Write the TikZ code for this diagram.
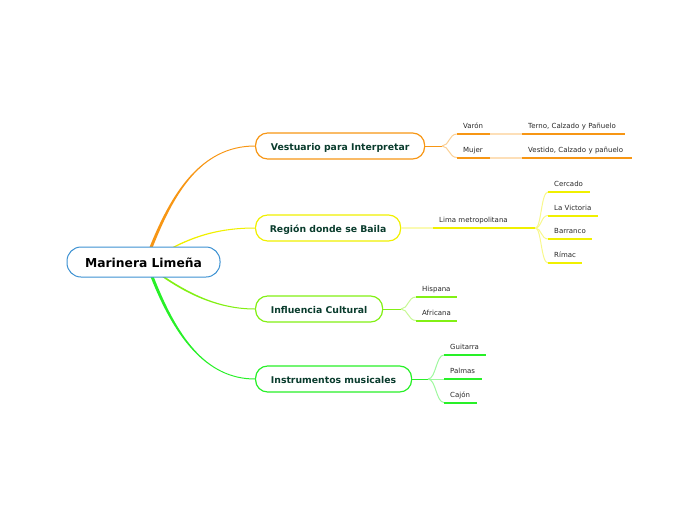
\documentclass[tikz,border=0pt]{standalone}
\usepackage{fontspec}
\setmainfont{DejaVu Sans}
\usetikzlibrary{calc}
\definecolor{cOr}{RGB}{247,150,20}
\definecolor{cYe}{RGB}{240,240,0}
\definecolor{cLi}{RGB}{130,240,20}
\definecolor{cGr}{RGB}{40,240,40}
\definecolor{cBl}{RGB}{60,145,210}
\definecolor{cTx}{RGB}{10,60,45}
\definecolor{cLf}{RGB}{40,40,40}
\tikzset{
  rootbox/.style={draw=cBl, line width=1pt, rounded corners=14pt, fill=white,
    minimum width=153pt, minimum height=30pt, inner sep=0pt,
    text height=10.5pt, text depth=0pt,
    font=\fontsize{12.3}{14}\selectfont\bfseries, text=black},
  mainbox/.style={draw=#1, line width=1.2pt, rounded corners=12pt, fill=white,
    minimum height=26pt, inner sep=0pt, anchor=west,
    text height=9pt, text depth=0pt,
    font=\fontsize{9.3}{11}\selectfont\bfseries, text=cTx},
  leaf/.style={anchor=south west, inner xsep=6pt, inner ysep=3.5pt, align=left,
    text height=5.2pt, text depth=1.5pt, text width=#1,
    font=\fontsize{7}{8.5}\selectfont, text=cLf},
  uline/.style={draw=#1, line width=2pt},
  thinl/.style={draw=#1, line width=1pt},
  softl/.style={draw=#1!45, line width=1pt},
}
\begin{document}
\begin{tikzpicture}[x=1pt,y=-1pt]
\useasboundingbox (0,0) rectangle (697,520);

% main nodes
\node[mainbox=cOr, minimum width=169pt] (vest) at (255,146) {Vestuario para Interpretar};
\node[mainbox=cYe, minimum width=145pt] (reg) at (255,228) {Región donde se Baila};
\node[mainbox=cLi, minimum width=127pt] (inf) at (255,309) {Influencia Cultural};
\node[mainbox=cGr, minimum width=156pt] (ins) at (255,379) {Instrumentos musicales};

% root branches (tapered)
\coordinate (s1) at (151,247.5);
\coordinate (s2) at (173,247.5);
\coordinate (s3) at (163,276.5);
\coordinate (s4) at (152,276.5);

\fill[cOr] ($(s1)+(-1.6,0)$) .. controls (170.5,195) and (200,145.5) .. ($(vest.west)+(0,-0.5)$)
  -- ($(vest.west)+(0,0.5)$) .. controls (200,146.5) and (173.5,195) .. ($(s1)+(1.6,0)$) -- cycle;
\fill[cYe] ($(s2)+(-1.4,0)$) .. controls (195,235.3) and (220,227.5) .. ($(reg.west)+(0,-0.5)$)
  -- ($(reg.west)+(0,0.5)$) .. controls (220,228.5) and (196,236.7) .. ($(s2)+(1.4,0)$) -- cycle;
\fill[cLi] ($(s3)+(-1.4,0)$) .. controls (189,295.7) and (220,309.5) .. ($(inf.west)+(0,0.5)$)
  -- ($(inf.west)+(0,-0.5)$) .. controls (220,308.5) and (191,294.3) .. ($(s3)+(1.4,0)$) -- cycle;
\fill[cGr] ($(s4)+(-1.6,0)$) .. controls (173.5,335) and (205,379.5) .. ($(ins.west)+(0,0.5)$)
  -- ($(ins.west)+(0,-0.5)$) .. controls (205,378.5) and (176.5,335) .. ($(s4)+(1.6,0)$) -- cycle;

\node[rootbox] (root) at (143.5,262) {Marinera Limeña};

% ---- Vestuario children
\node[leaf=21pt] (varon) at (457,134) {Varón};
\node[leaf=21pt] (mujer) at (457,157.5) {Mujer};
\node[leaf=91pt] (terno) at (522,134) {Terno, Calzado y Pañuelo};
\node[leaf=98pt] (vestido) at (522,157.5) {Vestido, Calzado y pañuelo};
\coordinate (fv) at (442,146);
\draw[thinl=cOr] (vest.east) -- (fv);
\draw[softl=cOr] (fv) .. controls (449,146) and (449,134) .. (varon.south west);
\draw[softl=cOr] (fv) .. controls (449,146) and (449,157.5) .. (mujer.south west);
\draw[uline=cOr] (varon.south west) -- (varon.south east);
\draw[uline=cOr] (mujer.south west) -- (mujer.south east);
\draw[uline=cOr!30] (varon.south east) -- (terno.south west);
\draw[uline=cOr!30] (mujer.south east) -- (vestido.south west);
\draw[uline=cOr] (terno.south west) -- (terno.south east);
\draw[uline=cOr] (vestido.south west) -- (vestido.south east);

% ---- Región children
\node[leaf=90pt] (lima) at (433,228) {Lima metropolitana};
\draw[uline=cYe!30] (reg.east) -- (lima.south west);
\draw[uline=cYe] (lima.south west) -- (lima.south east);
\node[leaf=30pt] (cerc) at (548,192) {Cercado};
\node[leaf=38pt] (lavi) at (548,215.5) {La Victoria};
\node[leaf=32pt] (barr) at (548,239) {Barranco};
\node[leaf=22pt] (rima) at (548,263) {Rímac};
\foreach \n in {cerc,lavi,barr,rima}{
  \draw[softl=cYe] (lima.south east) .. controls ($(lima.south east)+(6,0)$) and ($(\n.south west)+(-7,0)$) .. (\n.south west);
  \draw[uline=cYe] (\n.south west) -- (\n.south east);
}

% ---- Influencia children
\node[leaf=29pt] (hisp) at (416,297) {Hispana};
\node[leaf=29pt] (afri) at (416,320.5) {Africana};
\coordinate (fi) at (401,309);
\draw[thinl=cLi] (inf.east) -- (fi);
\draw[softl=cLi] (fi) .. controls (408,309) and (408,297) .. (hisp.south west);
\draw[softl=cLi] (fi) .. controls (408,309) and (408,320.5) .. (afri.south west);
\draw[uline=cLi] (hisp.south west) -- (hisp.south east);
\draw[uline=cLi] (afri.south west) -- (afri.south east);

% ---- Instrumentos children
\node[leaf=30pt] (guit) at (444,355) {Guitarra};
\node[leaf=26pt] (palm) at (444,379) {Palmas};
\node[leaf=21pt] (cajo) at (444,402.5) {Cajón};
\coordinate (fn) at (428,379);
\draw[thinl=cGr] (ins.east) -- (fn);
\draw[softl=cGr] (fn) .. controls (436,379) and (436,355) .. (guit.south west);
\draw[softl=cGr] (fn) -- (palm.south west);
\draw[softl=cGr] (fn) .. controls (436,379) and (436,402.5) .. (cajo.south west);
\draw[uline=cGr] (guit.south west) -- (guit.south east);
\draw[uline=cGr] (palm.south west) -- (palm.south east);
\draw[uline=cGr] (cajo.south west) -- (cajo.south east);
\end{tikzpicture}
\end{document}
